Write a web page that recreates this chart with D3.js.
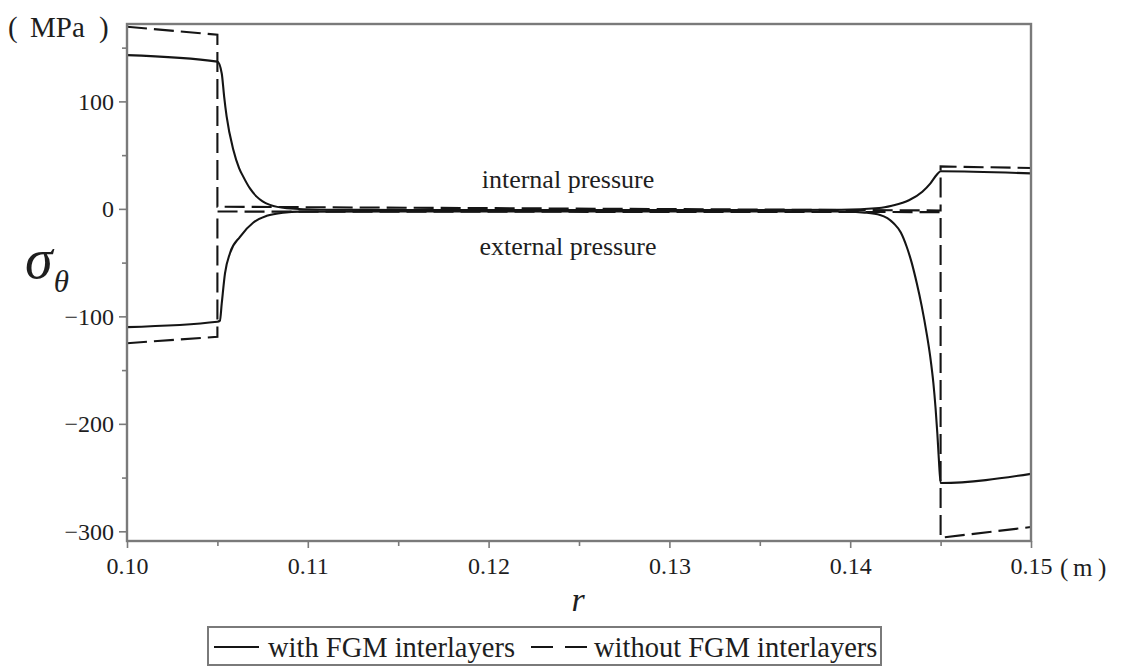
<!DOCTYPE html>
<html>
<head>
<meta charset="utf-8">
<script src="https://cdn.jsdelivr.net/npm/d3@7"></script>
<style>
  html, body { margin: 0; padding: 0; background: #fff; }
  svg { display: block; }
  text { font-family: "Liberation Serif", "Times New Roman", serif; fill: #1e1e1e; }
</style>
</head>
<body>
<svg id="chart" width="1124" height="668"></svg>
<script>
// Hoop stress sigma_theta (MPa) against radius r (m) for a three-layer cylinder.

// With FGM interlayers, internal pressure
const rWithInternal = [0.100, 0.105, 0.10524, 0.10537, 0.10551, 0.10588, 0.1062, 0.10643, 0.1068, 0.10717, 0.1075, 0.10791, 0.10883, 0.1107, 0.115, 0.120, 0.125, 0.130, 0.135, 0.1395, 0.1416, 0.1423, 0.14325, 0.14399, 0.14445, 0.1448, 0.145, 0.150];
const sWithInternal = [143, 137, 126, 105, 86, 55, 38, 30, 19, 11.4, 7, 3.7, 0.6, -0.8, -1, -1, -1, -1, -1, -0.8, 0.8, 3, 8, 16, 24, 32, 35, 33];

// With FGM interlayers, external pressure
const rWithExternal = [0.100, 0.105, 0.10514, 0.10524, 0.10542, 0.1057, 0.10625, 0.10699, 0.10773, 0.10864, 0.10957, 0.115, 0.125, 0.135, 0.1395, 0.1408, 0.14165, 0.1424, 0.1428, 0.14312, 0.1434, 0.14368, 0.14395, 0.14423, 0.14443, 0.1446, 0.14472, 0.14482, 0.1449, 0.145, 0.150];
const sWithExternal = [-110, -105, -104, -88, -60, -41, -26, -12.7, -6.5, -3.5, -2.6, -2.5, -2.5, -2.5, -2.5, -3.5, -5.6, -13.3, -22, -35, -50, -69, -90, -116, -138, -162, -185, -209, -232, -255, -246.5];

// Without FGM interlayers (sharp jumps at the layer interfaces)
const rWithoutInternal = [0.100, 0.105, 0.105, 0.145, 0.145, 0.150];
const sWithoutInternal = [169.5, 162, 2, -1.5, 39.5, 38];
const rWithoutExternal = [0.100, 0.105, 0.105, 0.145, 0.145, 0.150];
const sWithoutExternal = [-125, -119, -2.5, -3, -306, -296];

const xTicks = [0.10, 0.11, 0.12, 0.13, 0.14, 0.15];
const xMinorTicks = [0.105, 0.115, 0.125, 0.135, 0.145];
const yTicks = [100, 0, -100, -200, -300];
const yMinorTicks = [150, 50, -50, -150, -250];
const curveLabels = ["internal pressure", "external pressure"];
const legendLabels = ["with FGM interlayers", "without FGM interlayers"];

const svg = d3.select("#chart");
svg.append("rect").attr("width", 1124).attr("height", 668).attr("fill", "#fff");

const x = d3.scaleLinear().domain([0.10, 0.15]).range([127, 1031]);
const y = d3.scaleLinear().domain([-309, 172]).range([541, 24]);

const axisColor = "#7a7a7a";
const inkColor = "#151515";

// ---- axes ----
function styleAxis(g) {
  g.select(".domain").remove();
  g.selectAll(".tick line").attr("stroke", axisColor).attr("stroke-width", 1.6);
  g.selectAll(".tick text").attr("fill", "#2a2a2a").style("font-family", '"Liberation Serif","Times New Roman",serif').style("font-size", "24px");
}

svg.append("g").attr("transform", "translate(0,541)")
  .call(d3.axisBottom(x).tickValues(xTicks).tickFormat(d3.format(".2f")).tickSize(7).tickPadding(9))
  .call(styleAxis);
svg.append("g").attr("transform", "translate(0,541)")
  .call(d3.axisBottom(x).tickValues(xMinorTicks).tickFormat("").tickSize(5))
  .call(styleAxis);

svg.append("g").attr("transform", "translate(127,0)")
  .call(d3.axisLeft(y).tickValues(yTicks).tickFormat(d3.format("d")).tickSize(8).tickPadding(5))
  .call(styleAxis);
svg.append("g").attr("transform", "translate(127,0)")
  .call(d3.axisLeft(y).tickValues(yMinorTicks).tickFormat("").tickSize(5))
  .call(styleAxis);

// ---- curves ----
const plot = svg.append("g");
plot.append("clipPath").attr("id", "plotClip")
  .append("rect").attr("x", 127).attr("y", 24).attr("width", 904).attr("height", 517);

const smoothLine = d3.line().x(d => x(d[0])).y(d => y(d[1])).curve(d3.curveMonotoneX);
const stepLine = d3.line().x(d => x(d[0])).y(d => y(d[1])).curve(d3.curveLinear);

const zip = (a, b) => a.map((v, i) => [v, b[i]]);

const lines = plot.append("g").attr("clip-path", "url(#plotClip)");
[[rWithInternal, sWithInternal], [rWithExternal, sWithExternal]].forEach(([r, s]) => {
  lines.append("path").datum(zip(r, s))
    .attr("d", smoothLine).attr("fill", "none")
    .attr("stroke", inkColor).attr("stroke-width", 2.1);
});
[[rWithoutInternal, sWithoutInternal], [rWithoutExternal, sWithoutExternal]].forEach(([r, s]) => {
  lines.append("path").datum(zip(r, s))
    .attr("d", stepLine).attr("fill", "none")
    .attr("stroke", inkColor).attr("stroke-width", 2.1)
    .attr("stroke-dasharray", "20,7");
});

// ---- frame ----
svg.append("rect").attr("x", 127).attr("y", 24).attr("width", 904).attr("height", 517)
  .attr("fill", "none").attr("stroke", axisColor).attr("stroke-width", 2.4);

// ---- annotations ----
svg.append("text").attr("x", 568).attr("y", 188).attr("text-anchor", "middle")
  .style("font-size", "26px").text(curveLabels[0]);
svg.append("text").attr("x", 568).attr("y", 255).attr("text-anchor", "middle")
  .style("font-size", "26px").text(curveLabels[1]);

// unit labels
const unitY = svg.append("g").style("font-size", "29px");
unitY.append("text").attr("x", 8).attr("y", 37).text("(");
unitY.append("text").attr("x", 30).attr("y", 37).text("MPa");
unitY.append("text").attr("x", 99).attr("y", 37).text(")");

const unitX = svg.append("g").style("font-size", "25px");
unitX.append("text").attr("x", 1060).attr("y", 576).text("(");
unitX.append("text").attr("x", 1073).attr("y", 576).text("m");
unitX.append("text").attr("x", 1098).attr("y", 576).text(")");

// axis titles: sigma with a theta subscript, and r
const sigma = svg.append("text").attr("x", 25).attr("y", 278)
  .style("font-size", "56px").style("font-style", "italic");
sigma.append("tspan").text("σ");
sigma.append("tspan").attr("dy", 14).attr("dx", 1).style("font-size", "31px").text("θ");
svg.append("text").attr("x", 578).attr("y", 611).attr("text-anchor", "middle")
  .style("font-size", "34px").style("font-style", "italic").text("r");

// ---- legend ----
const legend = svg.append("g");
legend.append("rect").attr("x", 208).attr("y", 627).attr("width", 673).attr("height", 38)
  .attr("fill", "#fff").attr("stroke", axisColor).attr("stroke-width", 2);
legend.append("line").attr("x1", 214).attr("x2", 259).attr("y1", 647).attr("y2", 647)
  .attr("stroke", inkColor).attr("stroke-width", 2.2);
legend.append("text").attr("x", 268).attr("y", 657).style("font-size", "28.5px").text(legendLabels[0]);
legend.append("line").attr("x1", 531).attr("x2", 587).attr("y1", 647).attr("y2", 647)
  .attr("stroke", inkColor).attr("stroke-width", 2.2).attr("stroke-dasharray", "22,12");
legend.append("text").attr("x", 594).attr("y", 657).style("font-size", "28.5px").text(legendLabels[1]);
</script>
</body>
</html>
